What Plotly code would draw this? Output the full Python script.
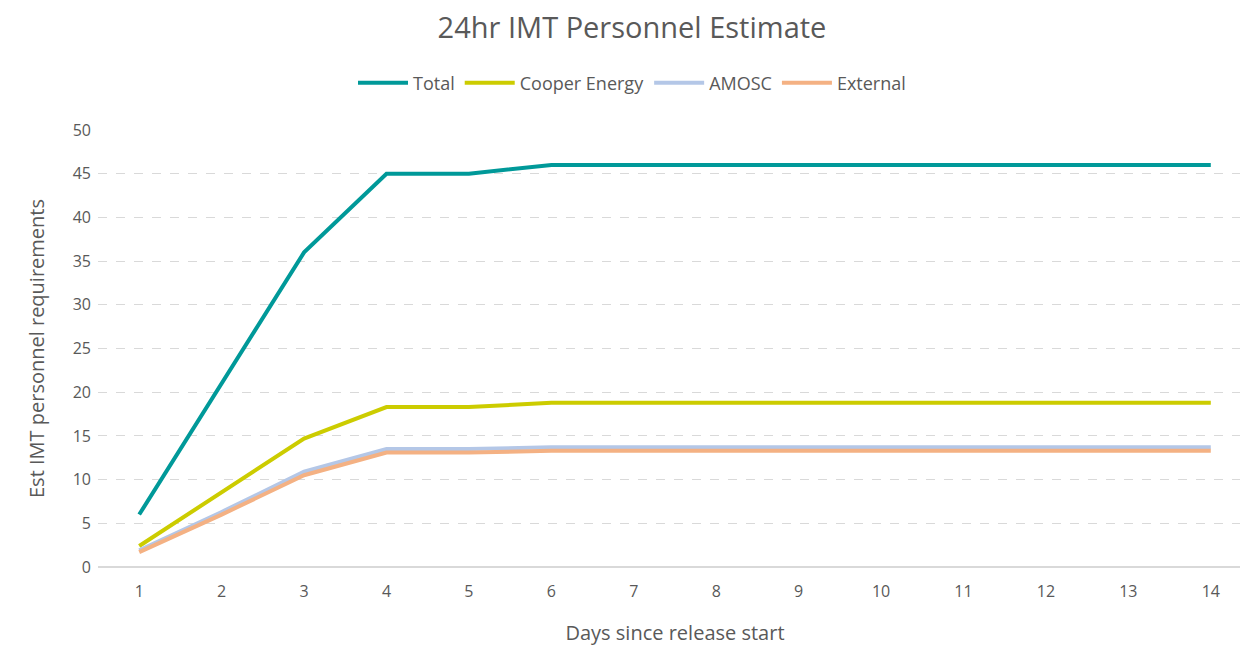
import plotly.graph_objects as go

days = list(range(1, 15))
total = [6, 21, 36, 45, 45, 46, 46, 46, 46, 46, 46, 46, 46, 46]
cooper = [2.4, 8.5, 14.7, 18.3, 18.3, 18.8, 18.8, 18.8, 18.8, 18.8, 18.8, 18.8, 18.8, 18.8]
amosc = [1.9, 6.3, 10.9, 13.5, 13.5, 13.7, 13.7, 13.7, 13.7, 13.7, 13.7, 13.7, 13.7, 13.7]
external = [1.7, 6.0, 10.5, 13.1, 13.1, 13.3, 13.3, 13.3, 13.3, 13.3, 13.3, 13.3, 13.3, 13.3]

series = [
    ("Total", total, "#009999"),
    ("Cooper Energy", cooper, "#CCCC00"),
    ("AMOSC", amosc, "#B4C7E7"),
    ("External", external, "#F4B183"),
]

TEXT = "#595959"
GRID = "#D9D9D9"
FONT = "Open Sans, Lato, sans-serif"

fig = go.Figure()
for name, vals, color in series:
    fig.add_trace(
        go.Scatter(
            x=days,
            y=vals,
            name=name,
            mode="lines",
            line=dict(color=color, width=4),
        )
    )

fig.update_layout(
    width=1248,
    height=656,
    paper_bgcolor="white",
    plot_bgcolor="white",
    margin=dict(l=90, r=4, t=122, b=97),
    font=dict(family=FONT, color=TEXT, size=16),
    title=dict(
        text="24hr IMT Personnel Estimate",
        font=dict(size=29, color=TEXT),
        x=0.5,
        xanchor="center",
        y=0.9695,
        yanchor="middle",
    ),
    legend=dict(
        orientation="h",
        xref="container",
        yref="container",
        x=0.5,
        xanchor="center",
        y=0.8857,
        yanchor="middle",
        font=dict(size=18, color=TEXT),
        itemwidth=50,
        traceorder="normal",
    ),
    xaxis=dict(
        range=[0.5, 14.5],
        tickvals=days,
        showgrid=False,
        zeroline=False,
        showline=False,
        ticks="",
        ticklabelstandoff=13,
        title=dict(text="Days since release start", font=dict(size=20, color=TEXT), standoff=24),
        tickfont=dict(size=16, color=TEXT),
    ),
    yaxis=dict(
        range=[0, 50],
        dtick=5,
        showgrid=True,
        gridcolor=GRID,
        griddash="dash",
        gridwidth=1,
        zeroline=True,
        zerolinecolor=GRID,
        zerolinewidth=2,
        ticks="",
        ticklabelstandoff=6,
        title=dict(text="Est IMT personnel requirements", font=dict(size=20, color=TEXT), standoff=22),
        tickfont=dict(size=16, color=TEXT),
    ),
)

fig.write_html("out.html")
